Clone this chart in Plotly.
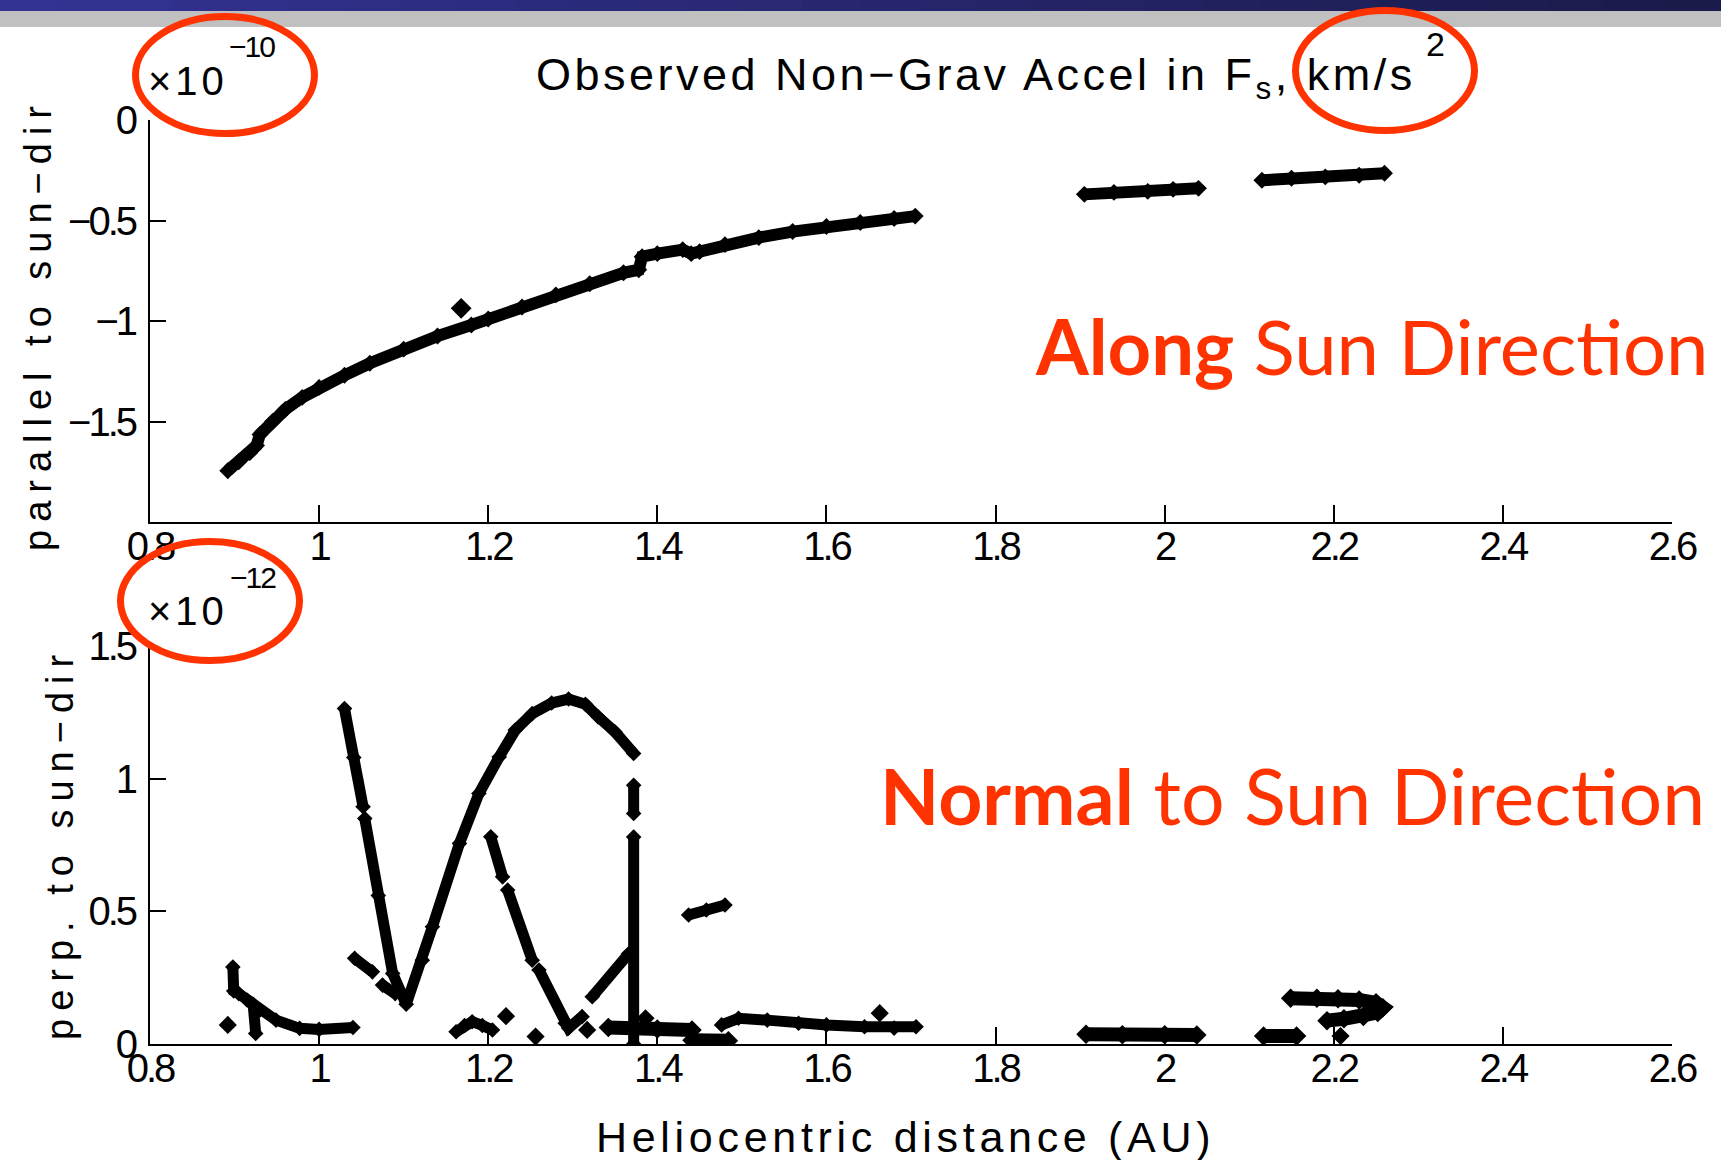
import plotly.graph_objects as go

W, H = 1721, 1160

# ---------------- data ----------------
# x: heliocentric distance (AU)
x_tickvals = [0.8, 1.0, 1.2, 1.4, 1.6, 1.8, 2.0, 2.2, 2.4, 2.6]
x_ticktext = ["0.8", "1", "1.2", "1.4", "1.6", "1.8", "2", "2.2", "2.4", "2.6"]

# top panel: parallel to sun-dir (x 1e-10 km/s^2)
top_tickvals = [-1.5, -1.0, -0.5, 0.0]
top_ticktext = ["\u22121.5", "\u22121", "\u22120.5", "0"]
par_main_x = [0.892, 0.905, 0.918, 0.926, 0.930, 0.945, 0.960, 0.980, 1.000, 1.030,
              1.060, 1.100, 1.140, 1.180, 1.200, 1.240, 1.280, 1.320, 1.360, 1.378,
              1.382, 1.400, 1.430, 1.440, 1.450, 1.480, 1.520, 1.560, 1.600, 1.640,
              1.680, 1.705]
par_main_y = [-1.745, -1.700, -1.655, -1.620, -1.565, -1.500, -1.440, -1.380, -1.330, -1.270,
              -1.210, -1.140, -1.075, -1.020, -0.990, -0.930, -0.870, -0.815, -0.760, -0.745,
              -0.680, -0.665, -0.645, -0.665, -0.655, -0.620, -0.585, -0.555, -0.530, -0.510,
              -0.490, -0.478]
par_seg2_x = [1.905, 1.940, 1.980, 2.010, 2.040]
par_seg2_y = [-0.370, -0.360, -0.355, -0.345, -0.340]
par_seg3_x = [2.115, 2.150, 2.190, 2.230, 2.260]
par_seg3_y = [-0.300, -0.290, -0.283, -0.275, -0.265]
par_dot_x = [1.168]
par_dot_y = [-0.937]

# bottom panel: perpendicular to sun-dir (x 1e-12 km/s^2)
bot_tickvals = [0.0, 0.5, 1.0, 1.5]
bot_ticktext = ["0", "0.5", "1", "1.5"]
perp_a_x = [0.898, 0.899, 0.905, 0.915, 0.930, 0.949, 0.977, 1.000, 1.040]
perp_a_y = [0.290, 0.200, 0.190, 0.165, 0.128, 0.090, 0.059, 0.055, 0.062]
perp_b_x = [0.922, 0.925]
perp_b_y = [0.150, 0.040]
perp_v1a_x = [1.030, 1.041, 1.052]
perp_v1a_y = [1.264, 1.080, 0.894]
perp_v1b_x = [1.054, 1.070, 1.087, 1.103, 1.122, 1.134, 1.166, 1.189, 1.213, 1.232,
              1.252, 1.275, 1.295, 1.315, 1.330, 1.350, 1.372]
perp_v1b_y = [0.850, 0.560, 0.266, 0.150, 0.316, 0.442, 0.756, 0.944, 1.082, 1.183,
              1.245, 1.285, 1.300, 1.280, 1.233, 1.176, 1.095]
perp_e_x = [1.042, 1.063]
perp_e_y = [0.323, 0.272]
perp_f_x = [1.075, 1.090]
perp_f_y = [0.222, 0.190]
perp_v2a_x = [1.203, 1.217]
perp_v2a_y = [0.781, 0.630]
perp_v2b_x = [1.223, 1.252]
perp_v2b_y = [0.580, 0.316]
perp_v2c_x = [1.260, 1.291, 1.295, 1.311]
perp_v2c_y = [0.279, 0.078, 0.060, 0.103]
perp_v2d_x = [1.323, 1.366]
perp_v2d_y = [0.178, 0.340]
perp_vert1_x = [1.372, 1.372]
perp_vert1_y = [0.975, 0.869]
perp_vert2_x = [1.372, 1.372]
perp_vert2_y = [0.780, 0.000]
perp_bump_x = [1.162, 1.172, 1.181, 1.193, 1.205]
perp_bump_y = [0.046, 0.070, 0.084, 0.070, 0.053]
perp_k_x = [1.342, 1.372, 1.400, 1.441]
perp_k_y = [0.062, 0.062, 0.057, 0.053]
perp_k2_x = [1.441, 1.484]
perp_k2_y = [0.014, 0.012]
perp_l_x = [1.437, 1.458, 1.480]
perp_l_y = [0.486, 0.505, 0.524]
perp_m_x = [1.476, 1.496, 1.530, 1.567, 1.600, 1.645, 1.680, 1.706]
perp_m_y = [0.072, 0.097, 0.090, 0.078, 0.072, 0.065, 0.060, 0.065]
perp_n_x = [1.907, 1.950, 2.000, 2.038]
perp_n_y = [0.037, 0.035, 0.035, 0.034]
perp_o_x = [2.117, 2.156]
perp_o_y = [0.030, 0.030]
perp_q_x = [2.149, 2.180, 2.205, 2.230, 2.250, 2.258, 2.252, 2.235, 2.212, 2.192]
perp_q_y = [0.172, 0.172, 0.171, 0.166, 0.155, 0.137, 0.119, 0.104, 0.095, 0.088]
perp_dots_x = [0.892, 1.221, 1.256, 1.317, 1.386, 1.663, 2.208]
perp_dots_y = [0.072, 0.105, 0.028, 0.053, 0.097, 0.116, 0.030]


def join(segs):
    xs, ys = [], []
    for sx, sy in segs:
        if xs:
            xs.append(None)
            ys.append(None)
        xs.extend(sx)
        ys.extend(sy)
    return xs, ys


# layout geometry (pixels)
PX_L, PX_R = 150, 1672          # x = 0.8 .. 2.6
TOP_Y0, TOP_Y1 = 120, 522       # y = 0 .. -2
BOT_Y0, BOT_Y1 = 646, 1044      # y = 1.5 .. 0


def X(px):
    return px / W


def Y(py):
    return 1 - py / H


fig = go.Figure()

tx, ty = join([(par_main_x, par_main_y), (par_seg2_x, par_seg2_y), (par_seg3_x, par_seg3_y)])
fig.add_trace(go.Scatter(x=tx, y=ty, mode="lines+markers", line=dict(color="black", width=12),
                         marker=dict(color="black", size=13, symbol="diamond"),
                         xaxis="x", yaxis="y", showlegend=False, hoverinfo="skip"))
fig.add_trace(go.Scatter(x=par_dot_x, y=par_dot_y, mode="markers",
                         marker=dict(color="black", size=16, symbol="diamond"),
                         xaxis="x", yaxis="y", showlegend=False, hoverinfo="skip"))

bx, by = join([(perp_a_x, perp_a_y), (perp_b_x, perp_b_y), (perp_v1a_x, perp_v1a_y),
               (perp_v1b_x, perp_v1b_y), (perp_e_x, perp_e_y), (perp_f_x, perp_f_y),
               (perp_v2a_x, perp_v2a_y), (perp_v2b_x, perp_v2b_y), (perp_v2c_x, perp_v2c_y),
               (perp_v2d_x, perp_v2d_y), (perp_vert1_x, perp_vert1_y),
               (perp_vert2_x, perp_vert2_y), (perp_bump_x, perp_bump_y),
               (perp_l_x, perp_l_y), (perp_m_x, perp_m_y)])
fig.add_trace(go.Scatter(x=bx, y=by, mode="lines+markers", line=dict(color="black", width=11),
                         marker=dict(color="black", size=12, symbol="diamond"),
                         xaxis="x2", yaxis="y2", showlegend=False, hoverinfo="skip"))
bx2, by2 = join([(perp_k_x, perp_k_y), (perp_k2_x, perp_k2_y), (perp_n_x, perp_n_y),
                 (perp_o_x, perp_o_y), (perp_q_x, perp_q_y)])
fig.add_trace(go.Scatter(x=bx2, y=by2, mode="lines+markers", line=dict(color="black", width=14),
                         marker=dict(color="black", size=15, symbol="diamond"),
                         xaxis="x2", yaxis="y2", showlegend=False, hoverinfo="skip"))
fig.add_trace(go.Scatter(x=perp_dots_x, y=perp_dots_y, mode="markers",
                         marker=dict(color="black", size=14, symbol="diamond"),
                         xaxis="x2", yaxis="y2", showlegend=False, hoverinfo="skip"))

num_family = "Liberation Sans, Arial, sans-serif"
tick_font = dict(family=num_family, size=40, color="black")


def squeeze(labels):
    return ["<span style='letter-spacing:-3px'>%s</span>" % t for t in labels]


xdom = [X(PX_L), X(PX_R)]
common_x = dict(domain=xdom, range=[0.8, 2.6], tickmode="array", tickvals=x_tickvals,
                ticktext=squeeze(x_ticktext), ticks="inside", ticklen=17, tickwidth=1.5,
                tickcolor="black", showline=True, linecolor="black", linewidth=2,
                showgrid=False, zeroline=False, tickfont=tick_font, mirror=False,
                automargin=False, ticklabelstandoff=-12)
common_y = dict(ticks="inside", ticklen=16, tickwidth=1.5, tickcolor="black", showline=True,
                linecolor="black", linewidth=2, showgrid=False, zeroline=False,
                tickfont=tick_font, tickmode="array", mirror=False, ticklabelstandoff=5,
                automargin=False)

fig.update_layout(
    width=W, height=H,
    margin=dict(l=0, r=0, t=0, b=0, autoexpand=False),
    paper_bgcolor="white", plot_bgcolor="rgba(0,0,0,0)",
    xaxis=dict(anchor="y", **common_x),
    yaxis=dict(anchor="x", domain=[Y(TOP_Y1), Y(TOP_Y0)], range=[-2, 0],
               tickvals=top_tickvals, ticktext=squeeze(top_ticktext), **common_y),
    xaxis2=dict(anchor="y2", **common_x),
    yaxis2=dict(anchor="x2", domain=[Y(BOT_Y1), Y(BOT_Y0)], range=[0, 1.5],
                tickvals=bot_tickvals, ticktext=squeeze(bot_ticktext), **common_y),
)

# banner (decoration)
shapes = []
c0 = (51, 51, 148)
c1 = (26, 26, 74)
nstep = 30
for i in range(nstep):
    f = i / (nstep - 1)
    col = "rgb(%d,%d,%d)" % tuple(round(a + (b - a) * f) for a, b in zip(c0, c1))
    shapes.append(dict(type="rect", xref="paper", yref="paper",
                       x0=i / nstep, x1=(i + 1) / nstep + 0.002, y0=Y(11), y1=1,
                       fillcolor=col, line=dict(width=0), layer="above"))
shapes.append(dict(type="rect", xref="paper", yref="paper", x0=0, x1=1, y0=Y(27), y1=Y(11),
                   fillcolor="#C0C0C0", line=dict(width=0), layer="above"))
red = "#FF3300"
for (a, b, c, d) in [(135.5, 314.5, 16.5, 133.5), (1295.5, 1474.5, 10.5, 130.5),
                     (120.5, 299.5, 541.5, 660.5)]:
    shapes.append(dict(type="circle", xref="paper", yref="paper", x0=X(a), x1=X(b),
                       y0=Y(d), y1=Y(c), line=dict(color=red, width=7), layer="above"))
fig.update_layout(shapes=shapes)

label_font = "Liberation Sans, Arial, sans-serif"
ann = []


def add_text(text, px, py, size, family=label_font, color="black",
             xanchor="left", angle=0, yanchor="middle"):
    ann.append(dict(text=text, xref="paper", yref="paper", x=X(px), y=Y(py),
                    xanchor=xanchor, yanchor=yanchor, showarrow=False,
                    textangle=angle, font=dict(family=family, size=size, color=color)))


# exponent labels
add_text("<span style='letter-spacing:4px'>\u00d710</span>", 146, 81, 40)
add_text("<span style='letter-spacing:-2px'>\u221210</span>", 227, 46, 30)
add_text("<span style='letter-spacing:4px'>\u00d710</span>", 146, 611, 40)
add_text("<span style='letter-spacing:-2px'>\u221212</span>", 228, 577, 30)

# title
add_text("<span style='letter-spacing:3.5px'>Observed Non\u2212Grav Accel in F<sub>s</sub>, km/s</span>",
         534, 78, 45)
add_text("2", 1424, 44, 34)

# axis titles
add_text("<span style='letter-spacing:8px'>parallel to sun\u2212dir</span>", 38, 325, 38,
         xanchor="center", angle=-90)
add_text("<span style='letter-spacing:8px'>perp. to sun\u2212dir</span>", 60, 844, 38,
         xanchor="center", angle=-90)
add_text("<span style='letter-spacing:4.7px'>Heliocentric distance (AU)</span>", 905, 1137, 43,
         xanchor="center")

# red labels
add_text("<b>Along</b> Sun Direction", 1033, 345, 76, family="Lato, Noto Sans, sans-serif",
         color=red)
add_text("<b>Normal</b> to Sun Direction", 878, 795, 77,
         family="Lato, Noto Sans, sans-serif", color=red)

fig.update_layout(annotations=ann)

fig.write_html("out.html", config={"displayModeBar": False},
               post_script="document.body.style.margin='0';document.body.style.overflow='hidden';")
